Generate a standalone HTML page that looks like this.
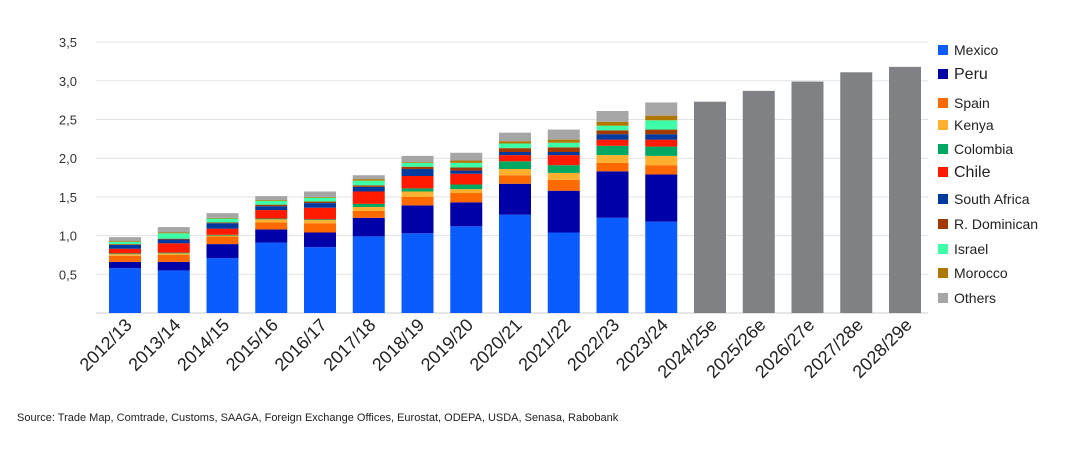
<!DOCTYPE html>
<html><head><meta charset="utf-8"><style>
body{margin:0;background:#fff;font-family:"Liberation Sans",Arial,sans-serif}
svg text{font-family:"Liberation Sans",Arial,sans-serif}
</style></head><body>
<svg id="chart" width="1067" height="449" viewBox="0 0 1067 449" xmlns="http://www.w3.org/2000/svg">
<g id="grid"></g><g id="bars"></g><g id="xl"></g><g id="legend"></g>
<text x="17" y="421" font-size="11" fill="#222">Source: Trade Map, Comtrade, Customs, SAAGA, Foreign Exchange Offices, Eurostat, ODEPA, USDA, Senasa, Rabobank</text>
</svg>
<script>
const categories=["2012/13","2013/14","2014/15","2015/16","2016/17","2017/18","2018/19","2019/20","2020/21","2021/22","2022/23","2023/24","2024/25e","2025/26e","2026/27e","2027/28e","2028/29e"];
const seriesNames=["Mexico","Peru","Spain","Kenya","Colombia","Chile","South Africa","R. Dominican","Israel","Morocco","Others"];
const colors=["#0a5cff","#0000a8","#ff6a00","#ffb02e","#00a862","#ff1a00","#003a9e","#a33a00","#3dffa8","#b07800","#a6a6a6"];
const mexico=[0.58,0.55,0.71,0.91,0.85,0.99,1.03,1.12,1.27,1.04,1.23,1.18];
const peru=[0.08,0.11,0.18,0.17,0.19,0.24,0.36,0.31,0.40,0.54,0.60,0.61];
const spain=[0.08,0.09,0.10,0.09,0.12,0.09,0.11,0.12,0.11,0.14,0.11,0.12];
const kenya=[0.02,0.02,0.01,0.04,0.04,0.05,0.07,0.05,0.08,0.09,0.10,0.12];
const colombia=[0.01,0.01,0.01,0.01,0.01,0.04,0.04,0.06,0.10,0.10,0.12,0.12];
const chile=[0.06,0.12,0.08,0.11,0.15,0.16,0.16,0.14,0.08,0.13,0.08,0.09];
const southAfrica=[0.05,0.05,0.07,0.05,0.06,0.06,0.09,0.04,0.04,0.04,0.07,0.07];
const dominican=[0.01,0.01,0.01,0.02,0.02,0.02,0.03,0.04,0.05,0.06,0.05,0.06];
const israel=[0.03,0.07,0.05,0.05,0.05,0.06,0.05,0.06,0.06,0.06,0.06,0.12];
const morocco=[0.01,0.01,0.01,0.01,0.01,0.02,0.01,0.03,0.03,0.04,0.05,0.06];
const others=[0.05,0.07,0.06,0.05,0.07,0.05,0.08,0.10,0.11,0.13,0.14,0.17];
const forecast=[2.73,2.87,2.99,3.11,3.18];
const yTicks=["","0,5","1,0","1,5","2,0","2,5","3,0","3,5"];
const series=[mexico,peru,spain,kenya,colombia,chile,southAfrica,dominican,israel,morocco,others];
const NS="http://www.w3.org/2000/svg";
const y=v=>313-v*77.4;
const x=i=>109+i*48.75;
const bw=32;
function mk(t,a,p){const e=document.createElementNS(NS,t);for(const k in a)e.setAttribute(k,a[k]);p.appendChild(e);return e;}
const g=document.getElementById('grid');
yTicks.forEach((t,i)=>{
  const l=mk('line',{x1:96,x2:928,y1:y(i*0.5),y2:y(i*0.5),stroke:i==0?'#ccc':'#e3e3e3','stroke-width':1},g);
  
  
  const tx=mk('text',{x:77,y:y(i*0.5)+5,'font-size':13,fill:'#333','text-anchor':'end'},g);
  tx.textContent=t;
  
  
});
const b=document.getElementById('bars');
mexico.forEach((_,i)=>{
  let acc=0;
  series.forEach((s,k)=>{
    const r=mk('rect',{x:x(i),y:y(acc+s[i]),width:bw,height:s[i]*77.4,fill:colors[k]},b);
    
    
    acc+=s[i];
  });
});
forecast.forEach((v,j)=>{
  const i=mexico.length+j;
  const r=mk('rect',{x:x(i),y:y(v),width:bw,height:v*77.4,fill:'#7f8184'},b);
  
  
});
const xl=document.getElementById('xl');
categories.forEach((c,i)=>{
  const cx=x(i)+bw/2+8, cy=326;
  const t=mk('text',{x:cx,y:cy,'font-size':18,fill:'#222','text-anchor':'end',transform:`rotate(-45 ${cx} ${cy})`},xl);
  t.textContent=c;
  
  
});
const lg=document.getElementById('legend');
const ly=[50,74,103,125,149,172,199,224,249,273,298];
const fs=[14,16,14,14,14,16,14,14,14,14,14];
seriesNames.forEach((n,k)=>{
  const r=mk('rect',{x:938,y:ly[k]-5,width:10,height:10,fill:colors[k]},lg);
  
  
  const t=mk('text',{x:954,y:ly[k]+5,'font-size':fs[k],fill:'#222'},lg);
  t.textContent=n;
  
  
});
</script>
</body></html>
